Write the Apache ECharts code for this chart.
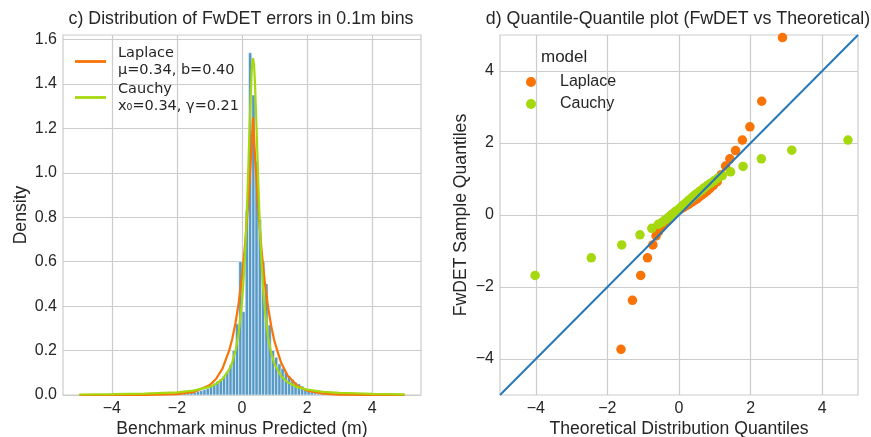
<!DOCTYPE html>
<html><head><meta charset="utf-8">
<script src="https://cdn.jsdelivr.net/npm/echarts@6/dist/echarts.min.js"></script>
<style>html,body{margin:0;padding:0;background:#fff}#c{width:871px;height:437px}</style>
</head><body><div id="c"></div>
<script>
// ---------- data ----------
const histBinStart = -5.0;
const histBinWidth = 0.1;
const histDensity = [
  0.001,0.001,0.002,0.001,0.001,0.002,0.001,0.002,0.002,0.001,
  0.002,0.002,0.001,0.002,0.002,0.002,0.003,0.002,0.002,0.003,
  0.003,0.003,0.002,0.004,0.003,0.004,0.003,0.005,0.004,0.005,
  0.005,0.006,0.007,0.009,0.011,0.013,0.017,0.020,0.025,0.030,
  0.042,0.053,0.062,0.070,0.085,0.105,0.135,0.200,0.320,0.600,
  0.375,0.830,1.540,1.350,1.050,0.790,0.600,0.500,0.315,0.200,
  0.170,0.140,0.120,0.100,0.085,0.070,0.057,0.050,0.040,0.030,
  0.021,0.014,0.009,0.006,0.005,0.004,0.004,0.003,0.003,0.003,
  0.002,0.002,0.003,0.002,0.002,0.001,0.002,0.002,0.001,0.002,
  0.001,0.002,0.001,0.001,0.002,0.001,0.001,0.001,0.001,0.001
];
const laplaceX = [-5,-4,-3,-2,-1.5,-1,-0.8,-0.6,-0.4,-0.3,-0.2,-0.1,0,0.1,0.2,0.3,0.34,0.4,0.5,0.6,0.7,0.8,0.9,1.0,1.2,1.4,1.7,2.0,2.5,3,4,5];
const laplaceY = [0,0.0001,0.0003,0.0036,0.0126,0.044,0.072,0.119,0.197,0.252,0.324,0.416,0.534,0.686,0.881,1.131,1.25,1.076,0.838,0.653,0.508,0.396,0.308,0.240,0.146,0.088,0.042,0.020,0.0056,0.0016,0.0001,0];
const cauchyX = [-5,-4,-3,-2,-1.5,-1,-0.8,-0.6,-0.4,-0.3,-0.2,-0.1,0,0.05,0.1,0.15,0.2,0.25,0.3,0.32,0.34,0.37,0.4,0.45,0.5,0.55,0.6,0.65,0.7,0.8,0.9,1.0,1.2,1.4,1.7,2.0,2.5,3,4,5];
const cauchyY = [0.0023,0.0035,0.006,0.0121,0.0195,0.0363,0.0497,0.072,0.113,0.147,0.199,0.281,0.419,0.521,0.657,0.834,1.05,1.281,1.463,1.502,1.516,1.486,1.401,1.189,0.959,0.758,0.598,0.477,0.385,0.261,0.187,0.139,0.0853,0.0572,0.0353,0.0239,0.0142,0.0094,0.005,0.0031];

const qqLaplaceTheo   = [-1.62,-1.30,-1.07,-0.88,-0.73,-0.64,-0.57,-0.50,-0.44,-0.38,-0.32,-0.27,-0.22,-0.17,-0.12,-0.07,-0.02,0.03,0.08,0.13,0.18,0.23,0.28,0.33,0.38,0.44,0.50,0.56,0.63,0.70,0.78,0.86,0.96,1.07,1.18,1.30,1.42,1.58,1.77,1.98,2.31,2.89];
const qqLaplaceSample = [-3.73,-2.37,-1.68,-1.19,-0.83,-0.58,-0.46,-0.36,-0.27,-0.19,-0.12,-0.06,-0.01,0.03,0.07,0.10,0.13,0.16,0.19,0.22,0.25,0.28,0.31,0.34,0.37,0.41,0.45,0.50,0.55,0.60,0.66,0.73,0.82,0.93,1.12,1.36,1.56,1.79,2.08,2.45,3.16,4.93];
const qqCauchyTheo    = [-4.02,-2.45,-1.60,-1.09,-0.76,-0.58,-0.47,-0.38,-0.30,-0.23,-0.17,-0.11,-0.06,-0.01,0.04,0.09,0.14,0.19,0.24,0.29,0.34,0.39,0.45,0.51,0.57,0.64,0.71,0.79,0.88,0.98,1.08,1.21,1.44,1.79,2.30,3.15,4.72];
const qqCauchySample  = [-1.68,-1.19,-0.83,-0.55,-0.37,-0.26,-0.20,-0.13,-0.07,-0.02,0.03,0.08,0.12,0.16,0.20,0.25,0.29,0.33,0.38,0.42,0.46,0.51,0.56,0.60,0.65,0.70,0.76,0.82,0.88,0.95,1.02,1.09,1.20,1.35,1.56,1.80,2.08];
const qqRefLine = [[-5,-5],[5,5]];

const histXTicks = [-4,-2,0,2,4];
const histYTicks = [0,0.2,0.4,0.6,0.8,1.0,1.2,1.4,1.6];
const qqXTicks = [-4,-2,0,2,4];
const qqYTicks = [-4,-2,0,2,4];

// ---------- build ----------
const FONT = "'Liberation Sans', Arial, sans-serif";
const TXT = '#262626';
const GRIDC = '#cccccc';
const zip = (a, b) => a.map((v, i) => [v, b[i]]);
const histData = histDensity.map((d, i) => {
  const x0 = +(histBinStart + i * histBinWidth).toFixed(2);
  return [x0, +(x0 + histBinWidth).toFixed(2), d];
});
const minus = v => String(v).replace('-', '\u2212');

function axis(gridIndex, min, max, ticks, fmt, extra) {
  return Object.assign({
    type: 'value', gridIndex, min, max,
    axisLine: { show: false },
    axisTick: { show: false, customValues: ticks },
    axisLabel: { customValues: ticks, formatter: fmt, color: TXT, fontSize: 16, fontFamily: FONT, margin: 6 },
    splitLine: { show: true, lineStyle: { color: GRIDC, width: 1.2 } },
    nameTextStyle: { color: TXT, fontSize: 17.6, fontFamily: FONT },
    nameLocation: 'middle'
  }, extra);
}

const chart = echarts.init(document.getElementById('c'), null, { renderer: 'canvas' });
chart.setOption({
  animation: false,
  backgroundColor: '#ffffff',
  grid: [
    { left: 63, top: 35, width: 358, height: 360, show: true, borderColor: GRIDC, borderWidth: 1.2, backgroundColor: 'transparent', containLabel: false, outerBoundsMode: 'none' },
    { left: 500, top: 35, width: 358, height: 360, show: true, borderColor: GRIDC, borderWidth: 1.2, backgroundColor: 'transparent', containLabel: false, outerBoundsMode: 'none' }
  ],
  xAxis: [
    axis(0, -5.5, 5.5, histXTicks, minus, { name: 'Benchmark minus Predicted (m)', nameGap: 25, nameMoveOverlap: false }),
    axis(1, -5, 5, qqXTicks, minus, { name: 'Theoretical Distribution Quantiles', nameGap: 25, nameMoveOverlap: false })
  ],
  yAxis: [
    axis(0, 0, 1.62, histYTicks, v => v.toFixed(1), { name: 'Density', nameGap: 33 }),
    axis(1, -5, 5, qqYTicks, minus, { name: 'FwDET Sample Quantiles', nameGap: 30 })
  ],
  legend: [
    {
      orient: 'vertical', left: 75, top: 45.5, padding: 0, itemWidth: 31, itemHeight: 2.8, itemGap: 4,
      selectedMode: false, icon: 'rect',
      data: [{ name: 'LaplacePDF', icon: 'rect' }, { name: 'CauchyPDF', icon: 'rect' }],
      formatter: n => n === 'LaplacePDF' ? '{a|Laplace}\n{a|\u03bc=0.34, b=0.40}' : '{a|Cauchy}\n{a|x\u2080=0.34, \u03b3=0.21}',
      textStyle: { rich: { a: { fontFamily: "'DejaVu Sans', sans-serif", fontSize: 14.5, lineHeight: 17, color: TXT, padding: [0, 0, 0, 7] } } }
    },
    {
      orient: 'vertical', left: 526, top: 74, padding: 0, itemWidth: 48, itemHeight: 10, itemGap: 6, icon: 'circle',
      selectedMode: false, data: ['Laplace', 'Cauchy'],
      textStyle: { fontFamily: FONT, fontSize: 16, color: TXT }
    }
  ],
  graphic: [
    { type: 'text', x: 241, y: 19, style: { text: 'c) Distribution of FwDET errors in 0.1m bins', fontSize: 17.8, fontFamily: FONT, fill: TXT, align: 'center', verticalAlign: 'middle' } },
    { type: 'text', x: 678, y: 19, style: { text: 'd) Quantile-Quantile plot (FwDET vs Theoretical)', fontSize: 17.8, fontFamily: FONT, fill: TXT, align: 'center', verticalAlign: 'middle' } },
    { type: 'text', x: 541, y: 57, style: { text: 'model', fontSize: 17, fontFamily: FONT, fill: TXT, align: 'left', verticalAlign: 'middle' } }
  ],
  series: [
    {
      type: 'custom', name: 'hist', xAxisIndex: 0, yAxisIndex: 0, data: histData,
      encode: { x: [0, 1], y: 2 },
      renderItem: (params, api) => {
        const p0 = api.coord([api.value(0), api.value(2)]);
        const p1 = api.coord([api.value(1), 0]);
        return { type: 'rect', shape: { x: p0[0], y: p0[1], width: p1[0] - p0[0], height: p1[1] - p0[1] },
                 style: { fill: '#5799c7', stroke: '#ffffff', lineWidth: 0.5 } };
      }
    },
    { type: 'line', name: 'LaplacePDF', xAxisIndex: 0, yAxisIndex: 0, data: zip(laplaceX, laplaceY), symbol: 'none', showSymbol: false,
      lineStyle: { color: '#f97306', width: 2.2 }, itemStyle: { color: '#f97306' }, z: 3 },
    { type: 'line', name: 'CauchyPDF', xAxisIndex: 0, yAxisIndex: 0, data: zip(cauchyX, cauchyY), symbol: 'none', showSymbol: false,
      lineStyle: { color: '#a6d80f', width: 2.2 }, itemStyle: { color: '#a6d80f' }, z: 4 },
    { type: 'scatter', name: 'Laplace', xAxisIndex: 1, yAxisIndex: 1, data: zip(qqLaplaceTheo, qqLaplaceSample), symbolSize: 9.5,
      itemStyle: { color: '#f97306', opacity: 1 } },
    { type: 'scatter', name: 'Cauchy', xAxisIndex: 1, yAxisIndex: 1, data: zip(qqCauchyTheo, qqCauchySample), symbolSize: 9.5,
      itemStyle: { color: '#a6d80f', opacity: 1 } },
    { type: 'line', name: 'ref', xAxisIndex: 1, yAxisIndex: 1, data: qqRefLine, symbol: 'none', showSymbol: false,
      lineStyle: { color: '#2878b8', width: 2 }, z: 5 }
  ]
});
</script></body></html>
